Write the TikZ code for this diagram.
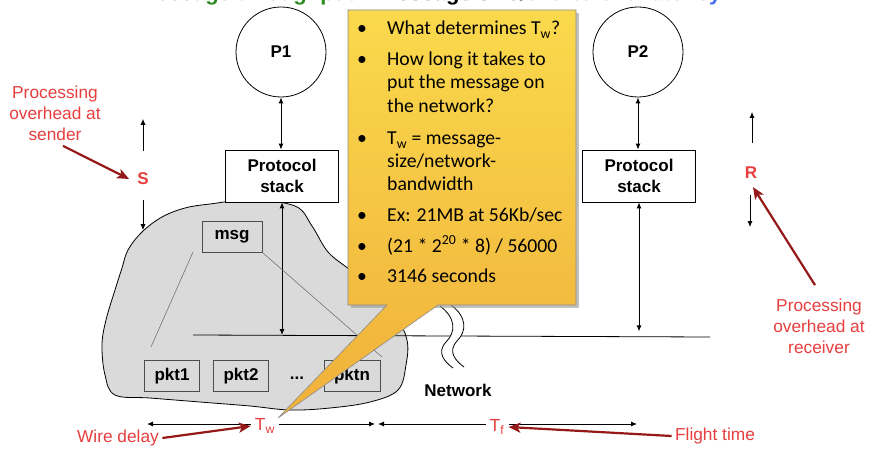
\documentclass[tikz,border=0pt]{standalone}
\usepackage{fontspec}
\setmainfont{Liberation Sans}
\newfontfamily\calibri{Carlito}
\usetikzlibrary{arrows.meta,positioning,calc}

\definecolor{titlegreen}{RGB}{46,139,34}
\definecolor{titleblue}{RGB}{66,110,240}
\definecolor{lblred}{RGB}{232,62,62}
\definecolor{arrred}{RGB}{150,25,25}
\definecolor{cloudgray}{RGB}{218,218,218}
\definecolor{calltop}{RGB}{250,217,76}
\definecolor{callbot}{RGB}{240,176,58}

\tikzset{
  proc/.style={circle,draw,line width=0.8pt,minimum size=90pt,font=\fontsize{17}{20}\selectfont\bfseries},
  stackbox/.style={draw,fill=white,line width=0.8pt,minimum width=113pt,minimum height=52pt,align=center,font=\fontsize{17}{21}\selectfont\bfseries},
  pktbox/.style={draw=black!70,fill=cloudgray,line width=1pt,minimum width=55pt,minimum height=31pt,font=\fontsize{17}{20}\selectfont\bfseries},
  redlbl/.style={text=lblred,align=center,font=\fontsize{17.3}{21}\selectfont},
  redbold/.style={text=lblred,inner sep=0pt,font=\fontsize{17}{20}\selectfont\bfseries},
  redT/.style={text=lblred,inner sep=4pt,font=\fontsize{17.5}{20}\selectfont},
  redarrow/.style={draw=arrred,line width=2.2pt,-{Stealth[length=12pt,width=10pt,inset=3pt]}},
  dimline/.style={line width=0.9pt,-{Latex[length=6pt,width=5pt]}},
  updown/.style={line width=0.9pt,{Latex[length=6pt,width=5pt]}-{Latex[length=6pt,width=5pt]}},
  calltext/.style={anchor=base west,inner sep=0pt,font=\calibri\fontsize{19.7}{23}\selectfont},
}

\begin{document}
\begin{tikzpicture}[x=1pt,y=-1pt]
\clip (0,0) rectangle (878,457);
\fill[white] (0,0) rectangle (878,457);

\node[anchor=base west,inner sep=0pt,font=\fontsize{22}{26}\selectfont\bfseries] (title) at (138,1)
  {\textcolor{titlegreen}{Message throughput} – Message size/\textcolor{titleblue}{end-to-end latency}};

% network cloud
\filldraw[fill=cloudgray,draw=black,line width=0.8pt] plot[smooth cycle,tension=0.6] coordinates {
  (128,250) (142,232) (162,217) (185,208) (210,204) (250,200) (295,206) (312,226) (328,252)
  (350,270) (372,290) (395,315) (407,340) (406,365) (398,390) (370,402) (330,408) (290,410)
  (250,406) (200,402) (150,398) (115,395) (105,375) (102,345) (106,320) (115,290) (122,268)};

\node[proc] (p1) at (281,52) {P1};
\node[proc] (p2) at (638,52) {P2};
\node[stackbox] (ps1) at (282,176) {Protocol\\stack};
\node[stackbox] (ps2) at (639,176) {Protocol\\stack};

\coordinate (busL) at (193,335);
\coordinate (busR) at (710,337);
\draw[line width=0.8pt] (busL) -- (busR);

\draw[updown] (p1.south) -- (p1.south |- ps1.north);
\draw[updown] (ps1.south) -- (ps1.south |- busL);
\draw[updown] (p2.south) -- (p2.south |- ps2.north);
\draw[updown] (ps2.south) -- ++(0,129);

\node[pktbox,minimum width=60pt,minimum height=30pt] (msg) at (232,237) {msg};
\node[pktbox] (pkt1) at (172,376) {pkt1};
\node[pktbox] (pkt2) at (241,376) {pkt2};
\node[font=\fontsize{17}{20}\selectfont\bfseries] (dots) at (297,378) {...};
\node[pktbox,minimum width=56pt] (pktn) at (352,376) {pktn};
\coordinate (m1) at (193,252);
\coordinate (k1) at (151,347);
\coordinate (m2) at (263,253);
\coordinate (k2) at (382,357);
\draw[black!60,line width=0.5pt] (m1) -- (k1);
\draw[black!60,line width=0.5pt] (m2) -- (k2);

% break in the network line
\fill[white] (440,306) .. controls (456,318) and (456,332) .. (446,342) .. controls (436,353) and (445,362) .. (453,368)
  -- (464,367) .. controls (456,361) and (447,352) .. (457,341) .. controls (467,331) and (467,317) .. (451,305) -- cycle;
\draw[line width=0.8pt] (440,306) .. controls (456,318) and (456,332) .. (446,342) .. controls (436,353) and (445,362) .. (453,368);
\draw[line width=0.8pt] (451,305) .. controls (467,317) and (467,331) .. (457,341) .. controls (447,352) and (456,361) .. (464,367);

\node[font=\fontsize{17}{20}\selectfont\bfseries] (net) at (458,390) {Network};

\node[redbold] (S) at (143,179) {S};
\draw[dimline] (S.north) ++(0,-22) -- ++(0,-32);
\draw[dimline] (S.south) ++(0,15) -- ++(0,30);
\node[redlbl] (sendlbl) at (55,113) {Processing\\overhead at\\sender};
\draw[redarrow] ($(sendlbl.south)+(8,2)$) -- ($(S.west)+(-8,0)$);

\node[redbold] (R) at (751,173) {R};
\draw[dimline] (R.north) ++(1,-24) -- ++(0,-31);
\draw[dimline] (R.south) ++(-1,16) -- ++(0,32);
\node[redlbl] (recvlbl) at (819,326) {Processing\\overhead at\\receiver};
\draw[redarrow] ($(recvlbl.north)+(-4,-10)$) -- ($(R.south)+(2,8)$);

\node[redT] (Tw) at (265,426) {T\textsubscript{w}};
\coordinate (twL) at (147,424);
\coordinate (twR) at (375,424);
\draw[dimline] (Tw.west |- twL) -- (twL);
\draw[dimline] (Tw.east |- twR) -- (twR);
\node[redT] (Tf) at (497,427) {T\textsubscript{f}};
\coordinate (tfL) at (378,424);
\coordinate (tfR) at (637,424);
\draw[dimline] (Tf.west |- tfL) -- (tfL);
\draw[dimline] (Tf.east |- tfR) -- (tfR);

\node[redlbl] (wire) at (118,438) {Wire delay};
\draw[redarrow] (wire.east) -- (Tw.west);
\node[redlbl] (flight) at (715,436) {Flight time};
\draw[redarrow] (flight.west) -- (Tf.east);

% callout
\fill[black!40,opacity=0.6] (351,13) rectangle (579,308);
\shadedraw[top color=calltop,bottom color=callbot,draw=black!45,line width=0.6pt]
  (348,10) -- (576,10) -- (576,305) -- (438,305) -- (278,418) -- (387,305) -- (348,305) -- cycle;
\foreach \y [count=\i] in {35,66,145,222,252,282}
  \node[calltext] (bul\i) at (357,\y) {\textbullet};
\foreach \y/\txt [count=\i] in {35/{What determines T\textsubscript{w}?}, 66/{How long it takes to},
    89/{put the message on}, 113/{the network?}, 145/{T\textsubscript{w} = message-},
    168/{size/network-}, 191/{bandwidth}, 222/{Ex: 21MB at 56Kb/sec},
    252/{(21 * 2\textsuperscript{20} * 8) / 56000}, 282/{3146 seconds}}
  \node[calltext] (line\i) at (387,\y) {\txt};

\end{tikzpicture}
\end{document}
